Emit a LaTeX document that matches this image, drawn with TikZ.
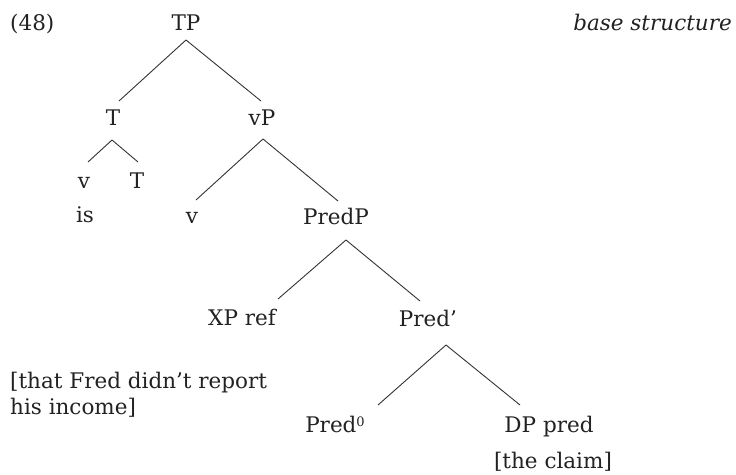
\documentclass[tikz,border=0pt]{standalone}
\usepackage{fontspec}
\setmainfont{DejaVu Serif}
\definecolor{ink}{HTML}{222222}
\definecolor{edge}{HTML}{333333}
\tikzset{
  lbl/.style={anchor=base, inner sep=0pt, text=ink, font=\fontsize{21.5}{25.5}\selectfont},
  branch/.style={draw=edge, line width=0.9pt}
}
\begin{document}
\begin{tikzpicture}[x=1pt,y=-1pt]
\useasboundingbox (0,0) rectangle (736,474);
\node[lbl, anchor=base west] (num) at (10,30) {(48)};
\node[lbl, anchor=base east] (base) at (732,30) {\itshape base structure};
\node[lbl] (TP) at (186,30) {TP};
\node[lbl] (T) at (113,125) {T};
\node[lbl] (vP) at (262,125) {vP};
\node[lbl] (v1) at (84,188) {v};
\node[lbl] (T2) at (137,188) {T};
\node[lbl] (is) at (85,222) {is};
\node[lbl] (v2) at (192,223) {v};
\node[lbl] (PredP) at (336,224) {PredP};
\node[lbl] (XP) at (242,325) {XP ref};
\node[lbl] (Predb) at (428,326) {Pred’};
\node[lbl, anchor=base west, align=left] (clause) at (10,414) {[that Fred didn’t report\\his income]};
\node[lbl] (Pred0) at (335,432) {Pred\raisebox{0.45ex}{\fontsize{13}{13}\selectfont 0}};
\node[lbl] (DP) at (549,432) {DP pred};
\node[lbl] (claim) at (553,468) {[the claim]};
\draw[branch] ([yshift=-10pt]TP.base) -- ([xshift=6pt,yshift=24pt]T.base);
\draw[branch] ([yshift=-10pt]TP.base) -- ([xshift=-1pt,yshift=24pt]vP.base);
\draw[branch] ([xshift=-1pt,yshift=-15pt]T.base) -- ([xshift=4pt,yshift=26pt]v1.base);
\draw[branch] ([xshift=-1pt,yshift=-15pt]T.base) -- ([xshift=1pt,yshift=26pt]T2.base);
\draw[branch] ([xshift=1pt,yshift=-14pt]vP.base) -- ([xshift=4pt,yshift=23pt]v2.base);
\draw[branch] ([xshift=1pt,yshift=-14pt]vP.base) -- ([xshift=2pt,yshift=23pt]PredP.base);
\draw[branch] ([xshift=10pt,yshift=-16pt]PredP.base) -- ([xshift=36pt,yshift=26pt]XP.base);
\draw[branch] ([xshift=10pt,yshift=-16pt]PredP.base) -- ([xshift=-8pt,yshift=25pt]Predb.base);
\draw[branch] ([xshift=18pt,yshift=-19pt]Predb.base) -- ([xshift=43pt,yshift=27pt]Pred0.base);
\draw[branch] ([xshift=18pt,yshift=-19pt]Predb.base) -- ([xshift=-29pt,yshift=27pt]DP.base);
\end{tikzpicture}
\end{document}
